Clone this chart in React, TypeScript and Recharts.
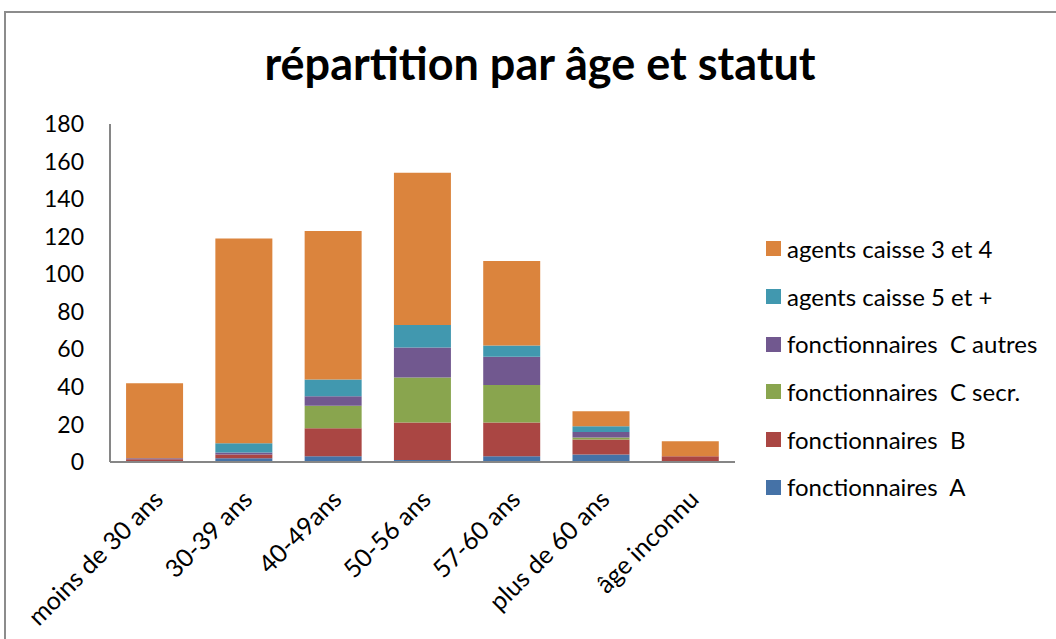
import { Bar, BarChart, XAxis, YAxis } from "recharts"

const categories = [
  "moins de 30 ans",
  "30-39 ans",
  "40-49ans",
  "50-56 ans",
  "57-60 ans",
  "plus de 60 ans",
  "âge inconnu",
]

const fonctA = [0.5, 2, 3, 1, 3, 4, 0]
const fonctB = [1, 2, 15, 20, 18, 8, 3]
const fonctCSecr = [0, 0, 12, 24, 20, 1, 0]
const fonctCAutres = [0.5, 1, 5, 16, 15, 3, 0]
const agents5 = [0, 5, 9, 12, 6, 3, 0]
const agents34 = [40, 109, 79, 81, 45, 8, 8]

const yTicks = [0, 20, 40, 60, 80, 100, 120, 140, 160, 180]

const series = [
  { key: "a", name: "fonctionnaires  A", values: fonctA, color: "#4572A7" },
  { key: "b", name: "fonctionnaires  B", values: fonctB, color: "#AA4643" },
  { key: "csecr", name: "fonctionnaires  C secr.", values: fonctCSecr, color: "#89A54E" },
  { key: "cautres", name: "fonctionnaires  C autres", values: fonctCAutres, color: "#71588F" },
  { key: "ag5", name: "agents caisse 5 et +", values: agents5, color: "#4198AF" },
  { key: "ag34", name: "agents caisse 3 et 4", values: agents34, color: "#DB843D" },
]

const data = categories.map((cat, i) => {
  const row: Record<string, string | number> = { cat }
  series.forEach((s) => {
    row[s.key] = s.values[i]
  })
  return row
})

const font = "Lato, 'Open Sans', sans-serif"

function XTick(props: any) {
  const { x, y, payload } = props
  return (
    <g transform={`translate(${x + 10},${y + 31})`}>
      <text textAnchor="end" transform="rotate(-45)" fontSize={25} fill="#000" fontFamily={font}>
        {payload.value}
      </text>
    </g>
  )
}

export default function App() {
  return (
    <div style={{ position: "absolute", left: 0, top: 0, width: 1056, height: 639, overflow: "hidden", background: "#fff" }}>
      <div
        style={{
          position: "absolute",
          left: 4,
          top: 11,
          width: 1100,
          height: 700,
          border: "2px solid #8c8c8c",
          boxSizing: "border-box",
        }}
      />
      <svg style={{ position: "absolute", left: 0, top: 0 }} width={1056} height={120}>
        <text x={540} y={80} textAnchor="middle" fontSize={45} fontWeight="bold" fontFamily={font} fill="#000">
          répartition par âge et statut
        </text>
      </svg>
      <div style={{ position: "absolute", left: 0, top: 0 }}>
        <BarChart
          width={1056}
          height={639}
          data={data}
          margin={{ top: 124, right: 321, bottom: 77, left: 0 }}
          barCategoryGap="18%"
        >
          <XAxis
            dataKey="cat"
            height={100}
            interval={0}
            tickLine={false}
            axisLine={{ stroke: "#868686", strokeWidth: 2 }}
            tick={<XTick />}
          />
          <YAxis
            width={110}
            domain={[0, 180]}
            ticks={yTicks}
            interval={0}
            tickLine={false}
            tickSize={0}
            tickMargin={26}
            axisLine={{ stroke: "#868686", strokeWidth: 2 }}
            tick={{ fill: "#000", fontSize: 23, fontFamily: font }}
          />
          {series.map((s) => (
            <Bar key={s.key} dataKey={s.key} name={s.name} stackId="s" fill={s.color} isAnimationActive={false} />
          ))}
        </BarChart>
      </div>
      <div style={{ position: "absolute", left: 766, top: 225, fontFamily: font, fontSize: 24, color: "#000" }}>
        {[...series].reverse().map((s) => (
          <div key={s.key} style={{ display: "flex", alignItems: "center", height: 47.7 }}>
            <span style={{ width: 15, height: 15, background: s.color, display: "inline-block", marginRight: 6 }} />
            <span style={{ whiteSpace: "pre", lineHeight: "30px" }}>{s.name}</span>
          </div>
        ))}
      </div>
    </div>
  )
}
